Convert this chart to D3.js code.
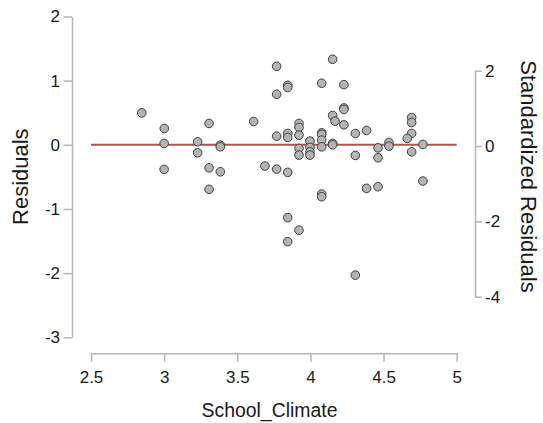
<!DOCTYPE html>
<html>
<head>
<meta charset="utf-8">
<script src="https://cdn.jsdelivr.net/npm/d3@7"></script>
<style>
  html, body { margin: 0; padding: 0; background: #fff; }
  svg { display: block; font-family: "Liberation Sans", Arial, sans-serif; }
</style>
</head>
<body>
<svg id="chart" width="543" height="423"></svg>
<script>
// School_Climate values (x) and residuals (y)
const climate = [
  2.847, 3.001, 3.0, 3.0, 3.307, 3.229, 3.229, 3.384, 3.384, 3.307,
  3.384, 3.307, 3.612, 3.689, 3.769, 4.152, 3.845, 3.845, 3.769, 4.077,
  4.229, 4.229, 4.229, 4.152, 4.168, 4.229, 3.922, 3.922, 3.922, 3.845,
  3.845, 3.769, 4.077, 4.077, 4.077, 4.077, 3.997, 3.997, 3.997, 3.997,
  3.922, 3.922, 4.152, 4.152, 4.307, 4.384, 4.307, 4.462, 4.462, 4.537,
  4.537, 4.384, 4.462, 4.692, 4.692, 4.692, 4.662, 4.692, 4.769, 4.769,
  3.769, 3.845, 4.077, 4.077, 3.845, 3.922, 3.845, 4.307
];
const residuals = [
  0.498, 0.255, 0.022, -0.383, 0.333, 0.047, -0.124, -0.005, -0.031, -0.358,
  -0.42, -0.694, 0.364, -0.331, 1.224, 1.333, 0.928, 0.893, 0.789, 0.96,
  0.938, 0.575, 0.551, 0.457, 0.369, 0.311, 0.333, 0.271, 0.151, 0.177,
  0.115, 0.135, 0.187, 0.162, 0.073, -0.031, 0.058, -0.04, -0.109, -0.16,
  -0.056, -0.16, 0.022, 0.0, 0.177, 0.224, -0.165, -0.047, -0.202, 0.037,
  -0.02, -0.678, -0.653, 0.426, 0.348, 0.177, 0.1, -0.109, 0.006, -0.565,
  -0.378, -0.429, -0.767, -0.809, -1.135, -1.331, -1.509, -2.031
];
const xTicks = [2.5, 3, 3.5, 4, 4.5, 5];
const yTicks = [-3, -2, -1, 0, 1, 2];
const stdTicks = [-4, -2, 0, 2];

const svg = d3.select("#chart");

const x = d3.scaleLinear().domain([2.5, 5]).range([91, 456.7]);
const y = d3.scaleLinear().domain([-3, 2]).range([337.3, 16.5]);
const yStd = d3.scaleLinear().domain([-4, 2]).range([296.7, 70.7]);

const axisColor = "#b5b5b5";
const textColor = "#1a1a1a";
const fmt = d => String(d);

function styleAxis(g) {
  g.selectAll("path.domain").attr("stroke", axisColor).attr("stroke-width", 1.5);
  g.selectAll(".tick line").attr("stroke", axisColor).attr("stroke-width", 1.5);
  g.selectAll(".tick text").attr("fill", textColor).style("font-size", "17px")
    .style("font-family", "'Liberation Sans', Arial, sans-serif");
}

// left axis
svg.append("g")
  .attr("transform", "translate(72,0)")
  .call(d3.axisLeft(y).tickValues(yTicks).tickFormat(fmt)
        .tickSize(8.5).tickSizeOuter(0).tickPadding(3.5))
  .call(styleAxis);

// bottom axis
svg.append("g")
  .attr("transform", "translate(0,353.3)")
  .call(d3.axisBottom(x).tickValues(xTicks).tickFormat(fmt)
        .tickSize(8.5).tickSizeOuter(0).tickPadding(9))
  .call(styleAxis);

// right axis (standardized residuals)
svg.append("g")
  .attr("transform", "translate(475,0)")
  .call(d3.axisRight(yStd).tickValues(stdTicks).tickFormat(fmt)
        .tickSize(7).tickSizeOuter(0).tickPadding(3))
  .call(styleAxis);

// zero reference line
svg.append("line")
  .attr("x1", x(2.5)).attr("x2", x(5))
  .attr("y1", y(0)).attr("y2", y(0))
  .attr("stroke", "#b8504a").attr("stroke-width", 2);

// points
const pts = climate.map((c, i) => ({ c, r: residuals[i] }));
svg.append("g").selectAll("circle")
  .data(pts).join("circle")
  .attr("cx", d => x(d.c))
  .attr("cy", d => y(d.r))
  .attr("r", 4.3)
  .attr("fill", "#b4b4b4")
  .attr("stroke", "#404040")
  .attr("stroke-width", 1);

// axis titles
svg.append("text")
  .attr("transform", "translate(28,176.7) rotate(-90)")
  .attr("text-anchor", "middle")
  .attr("fill", textColor)
  .style("font-size", "22px")
  .text("Residuals");

svg.append("text")
  .attr("x", 269.5).attr("y", 417)
  .attr("text-anchor", "middle")
  .attr("fill", textColor)
  .style("font-size", "20px")
  .attr("textLength", 136)
  .attr("lengthAdjust", "spacingAndGlyphs")
  .text("School_Climate");

svg.append("text")
  .attr("transform", "translate(521,176.5) rotate(90)")
  .attr("text-anchor", "middle")
  .attr("fill", textColor)
  .style("font-size", "22px")
  .text("Standardized Residuals");
</script>
</body>
</html>
